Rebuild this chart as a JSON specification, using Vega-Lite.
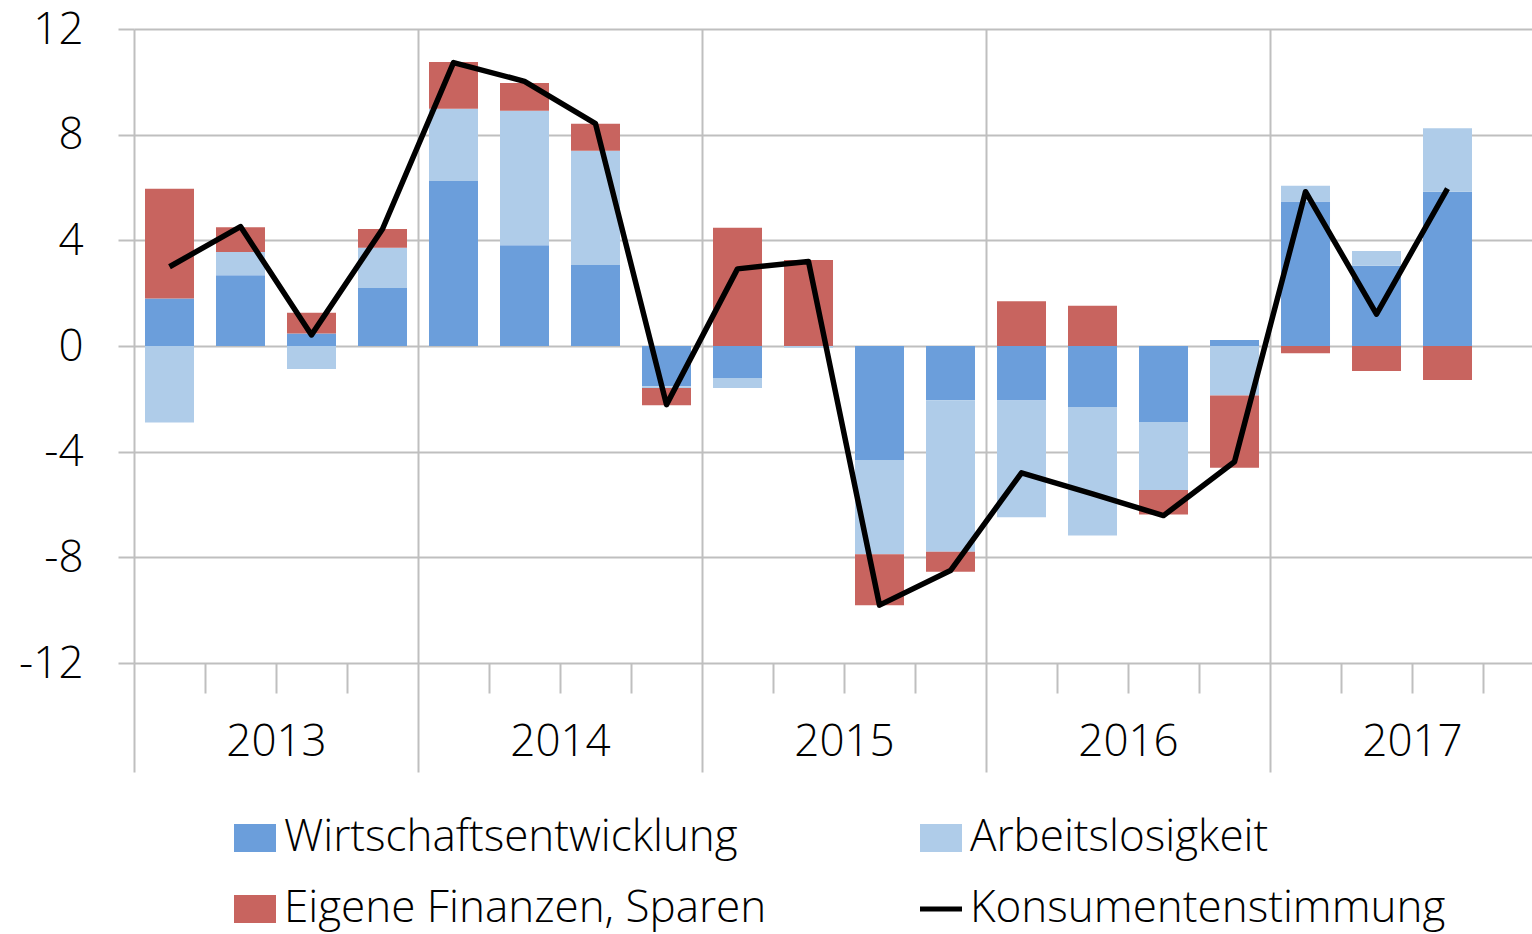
{
  "$schema": "https://vega.github.io/schema/vega-lite/v6.json",
  "autosize": {"type": "none"},
  "width": 1398,
  "height": 634,
  "padding": {"left": 134, "top": 29, "right": 0, "bottom": 271},
  "background": "white",
  "config": {"font": "Open Sans", "view": {"stroke": null}},
  "datasets": {
    "bars": [
      {"q": 1, "n": 1, "cat": "Wirtschaftsentwicklung", "v": 1.8},
      {"q": 1, "n": 2, "cat": "Arbeitslosigkeit", "v": -2.9},
      {"q": 1, "n": 3, "cat": "Eigene Finanzen, Sparen", "v": 4.15},
      {"q": 2, "n": 1, "cat": "Wirtschaftsentwicklung", "v": 2.68},
      {"q": 2, "n": 2, "cat": "Arbeitslosigkeit", "v": 0.88},
      {"q": 2, "n": 3, "cat": "Eigene Finanzen, Sparen", "v": 0.94},
      {"q": 3, "n": 1, "cat": "Wirtschaftsentwicklung", "v": 0.47},
      {"q": 3, "n": 2, "cat": "Arbeitslosigkeit", "v": -0.87},
      {"q": 3, "n": 3, "cat": "Eigene Finanzen, Sparen", "v": 0.79},
      {"q": 4, "n": 1, "cat": "Wirtschaftsentwicklung", "v": 2.2},
      {"q": 4, "n": 2, "cat": "Arbeitslosigkeit", "v": 1.52},
      {"q": 4, "n": 3, "cat": "Eigene Finanzen, Sparen", "v": 0.71},
      {"q": 5, "n": 1, "cat": "Wirtschaftsentwicklung", "v": 6.25},
      {"q": 5, "n": 2, "cat": "Arbeitslosigkeit", "v": 2.73},
      {"q": 5, "n": 3, "cat": "Eigene Finanzen, Sparen", "v": 1.77},
      {"q": 6, "n": 1, "cat": "Wirtschaftsentwicklung", "v": 3.81},
      {"q": 6, "n": 2, "cat": "Arbeitslosigkeit", "v": 5.1},
      {"q": 6, "n": 3, "cat": "Eigene Finanzen, Sparen", "v": 1.05},
      {"q": 7, "n": 1, "cat": "Wirtschaftsentwicklung", "v": 3.07},
      {"q": 7, "n": 2, "cat": "Arbeitslosigkeit", "v": 4.32},
      {"q": 7, "n": 3, "cat": "Eigene Finanzen, Sparen", "v": 1.02},
      {"q": 8, "n": 1, "cat": "Wirtschaftsentwicklung", "v": -1.52},
      {"q": 8, "n": 2, "cat": "Arbeitslosigkeit", "v": -0.07},
      {"q": 8, "n": 3, "cat": "Eigene Finanzen, Sparen", "v": -0.65},
      {"q": 9, "n": 1, "cat": "Wirtschaftsentwicklung", "v": -1.21},
      {"q": 9, "n": 2, "cat": "Arbeitslosigkeit", "v": -0.38},
      {"q": 9, "n": 3, "cat": "Eigene Finanzen, Sparen", "v": 4.48},
      {"q": 10, "n": 1, "cat": "Wirtschaftsentwicklung", "v": 0},
      {"q": 10, "n": 2, "cat": "Arbeitslosigkeit", "v": -0.07},
      {"q": 10, "n": 3, "cat": "Eigene Finanzen, Sparen", "v": 3.26},
      {"q": 11, "n": 1, "cat": "Wirtschaftsentwicklung", "v": -4.32},
      {"q": 11, "n": 2, "cat": "Arbeitslosigkeit", "v": -3.56},
      {"q": 11, "n": 3, "cat": "Eigene Finanzen, Sparen", "v": -1.93},
      {"q": 12, "n": 1, "cat": "Wirtschaftsentwicklung", "v": -2.05},
      {"q": 12, "n": 2, "cat": "Arbeitslosigkeit", "v": -5.74},
      {"q": 12, "n": 3, "cat": "Eigene Finanzen, Sparen", "v": -0.76},
      {"q": 13, "n": 1, "cat": "Wirtschaftsentwicklung", "v": -2.06},
      {"q": 13, "n": 2, "cat": "Arbeitslosigkeit", "v": -4.42},
      {"q": 13, "n": 3, "cat": "Eigene Finanzen, Sparen", "v": 1.69},
      {"q": 14, "n": 1, "cat": "Wirtschaftsentwicklung", "v": -2.31},
      {"q": 14, "n": 2, "cat": "Arbeitslosigkeit", "v": -4.86},
      {"q": 14, "n": 3, "cat": "Eigene Finanzen, Sparen", "v": 1.52},
      {"q": 15, "n": 1, "cat": "Wirtschaftsentwicklung", "v": -2.88},
      {"q": 15, "n": 2, "cat": "Arbeitslosigkeit", "v": -2.57},
      {"q": 15, "n": 3, "cat": "Eigene Finanzen, Sparen", "v": -0.93},
      {"q": 16, "n": 1, "cat": "Wirtschaftsentwicklung", "v": 0.23},
      {"q": 16, "n": 2, "cat": "Arbeitslosigkeit", "v": -1.87},
      {"q": 16, "n": 3, "cat": "Eigene Finanzen, Sparen", "v": -2.74},
      {"q": 17, "n": 1, "cat": "Wirtschaftsentwicklung", "v": 5.47},
      {"q": 17, "n": 2, "cat": "Arbeitslosigkeit", "v": 0.6},
      {"q": 17, "n": 3, "cat": "Eigene Finanzen, Sparen", "v": -0.27},
      {"q": 18, "n": 1, "cat": "Wirtschaftsentwicklung", "v": 3.04},
      {"q": 18, "n": 2, "cat": "Arbeitslosigkeit", "v": 0.56},
      {"q": 18, "n": 3, "cat": "Eigene Finanzen, Sparen", "v": -0.95},
      {"q": 19, "n": 1, "cat": "Wirtschaftsentwicklung", "v": 5.84},
      {"q": 19, "n": 2, "cat": "Arbeitslosigkeit", "v": 2.4},
      {"q": 19, "n": 3, "cat": "Eigene Finanzen, Sparen", "v": -1.29}
    ],
    "line": [
      {"q": 1, "k": 3.0}, {"q": 2, "k": 4.52}, {"q": 3, "k": 0.42}, {"q": 4, "k": 4.43},
      {"q": 5, "k": 10.73}, {"q": 6, "k": 10.02}, {"q": 7, "k": 8.42}, {"q": 8, "k": -2.22},
      {"q": 9, "k": 2.92}, {"q": 10, "k": 3.2}, {"q": 11, "k": -9.81}, {"q": 12, "k": -8.5},
      {"q": 13, "k": -4.8}, {"q": 14, "k": -5.6}, {"q": 15, "k": -6.42}, {"q": 16, "k": -4.38},
      {"q": 17, "k": 5.84}, {"q": 18, "k": 1.21}, {"q": 19, "k": 5.96}
    ]
  },
  "layer": [
    {
      "data": {"name": "bars"},
      "mark": {"type": "bar", "width": 49},
      "encoding": {
        "x": {
          "field": "q", "type": "quantitative",
          "scale": {"domain": [0.5, 20.19], "nice": false, "zero": false, "padding": 0},
          "axis": {
            "title": null,
            "values": [0.5, 1.5, 2.5, 3.5, 4.5, 5.5, 6.5, 7.5, 8.5, 9.5, 10.5, 11.5, 12.5, 13.5, 14.5, 15.5, 16.5, 17.5, 18.5, 19.5],
            "domain": false,
            "grid": true,
            "gridColor": "#BFBFBF",
            "gridWidth": 2,
            "gridOpacity": {"condition": {"test": "(datum.value - 0.5) % 4 === 0", "value": 1}, "value": 0},
            "ticks": true,
            "tickColor": "#BFBFBF",
            "tickWidth": 2,
            "tickSize": {"condition": {"test": "(datum.value - 0.5) % 4 === 0", "value": 109}, "value": 30},
            "labelExpr": "(datum.value - 2.5) % 4 === 0 ? '' + (2013 + (datum.value - 2.5) / 4) : ''",
            "labelFontSize": 44,
            "labelFontWeight": 300,
            "labelColor": "black",
            "labelBaseline": "middle",
            "labelPadding": 49,
            "labelFlush": false,
            "labelOverlap": false,
            "labelBound": false
          }
        },
        "y": {
          "field": "v", "type": "quantitative", "stack": "zero",
          "scale": {"domain": [-12, 12], "nice": false},
          "axis": {
            "title": null,
            "values": [-12, -8, -4, 0, 4, 8, 12],
            "labelExpr": "'' + datum.value",
            "domain": false,
            "grid": true,
            "gridColor": "#BFBFBF",
            "gridWidth": 2,
            "tickColor": "#BFBFBF",
            "tickWidth": 2,
            "tickSize": 16,
            "labelFontSize": 44,
            "labelFontWeight": 300,
            "labelColor": "black",
            "labelPadding": 35,
            "labelOffset": 1,
            "labelFlush": false,
            "labelOverlap": false,
            "labelBound": false
          }
        },
        "order": {"field": "n", "type": "quantitative", "sort": "ascending"},
        "color": {
          "field": "cat", "type": "nominal",
          "sort": ["Wirtschaftsentwicklung", "Eigene Finanzen, Sparen", "Arbeitslosigkeit", "Konsumentenstimmung"],
          "scale": {
            "domain": ["Wirtschaftsentwicklung", "Eigene Finanzen, Sparen", "Arbeitslosigkeit", "Konsumentenstimmung"],
            "range": ["#6B9EDB", "#C8645F", "#AFCCE9", "#000000"]
          },
          "legend": {
            "title": null,
            "orient": "none",
            "legendX": 99,
            "legendY": 787,
            "columns": 2,
            "columnPadding": 143,
            "rowPadding": 27,
            "padding": 0,
            "symbolSize": 1764,
            "symbolStrokeWidth": 0,
            "labelFontSize": 44,
            "labelFontWeight": 300,
            "labelColor": "black",
            "labelOffset": 7,
            "labelLimit": 1000,
            "encode": {
              "symbols": {
                "update": {
                  "shape": {"signal": "datum.value === 'Konsumentenstimmung' ? 'stroke' : 'M-1,-0.667H1V0.667H-1Z'"},
                  "stroke": {"value": "black"},
                  "strokeWidth": {"signal": "datum.value === 'Konsumentenstimmung' ? 5 : 0"},
                  "opacity": {"value": 1}
                }
              }
            }
          }
        }
      }
    },
    {
      "data": {"name": "line"},
      "mark": {"type": "line", "color": "black", "strokeWidth": 5.5, "strokeJoin": "round"},
      "encoding": {
        "x": {"field": "q", "type": "quantitative"},
        "y": {"field": "k", "type": "quantitative"}
      }
    }
  ]
}
